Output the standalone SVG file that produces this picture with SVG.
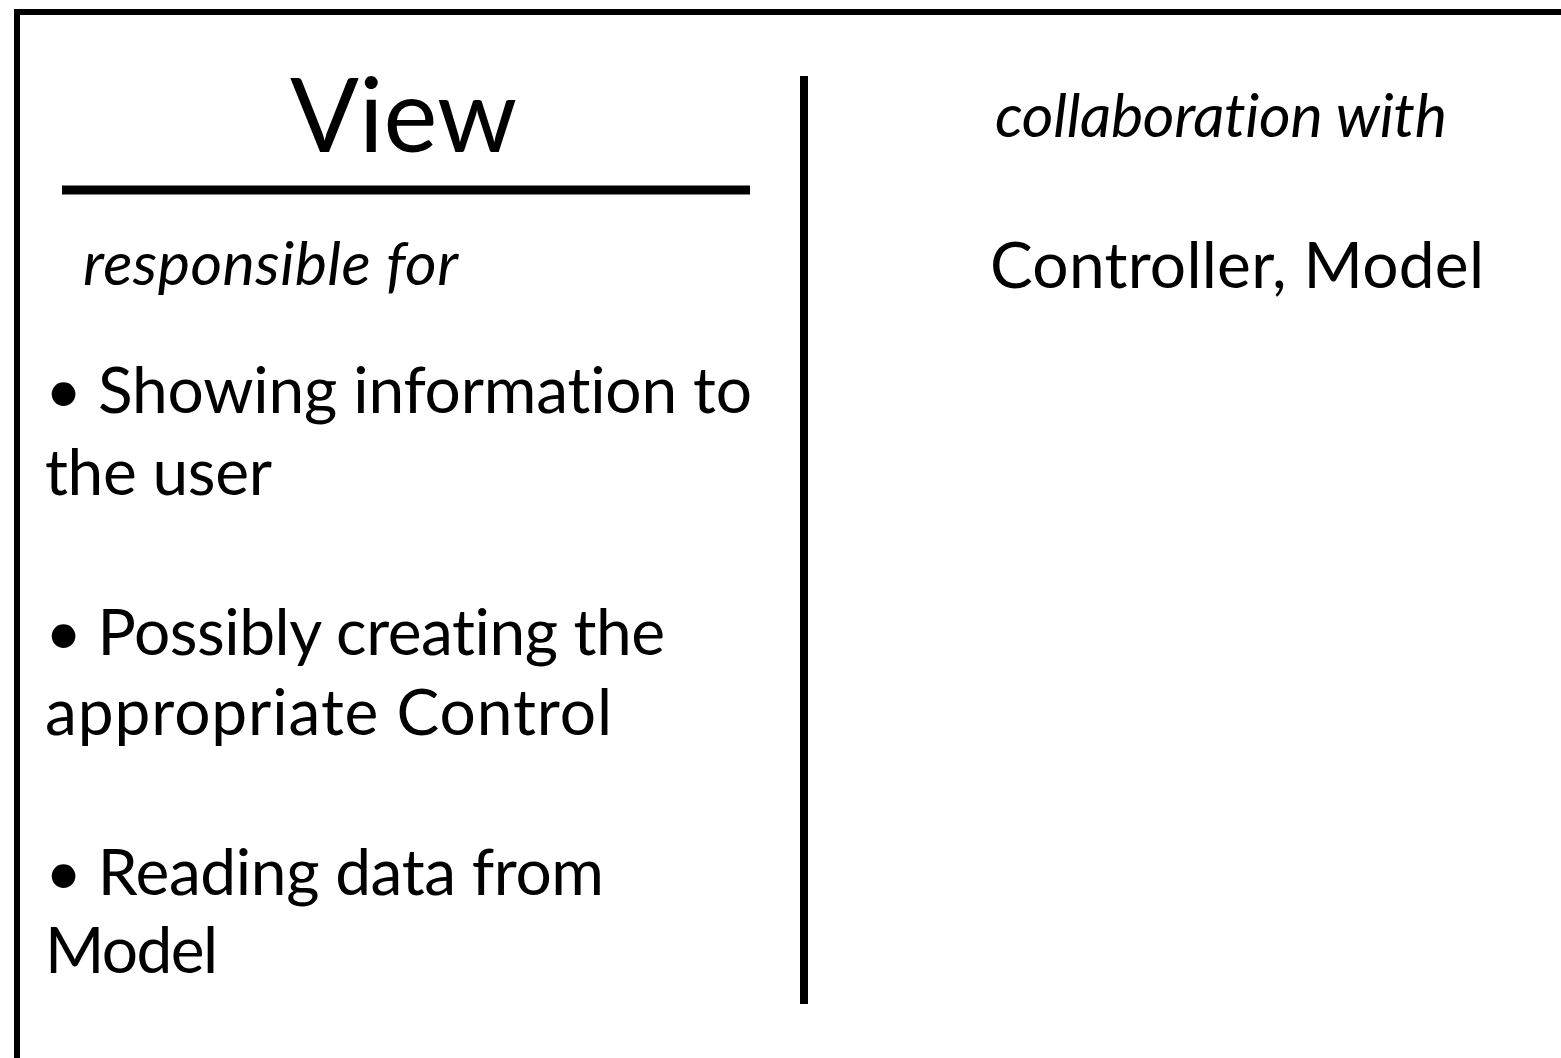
<svg xmlns="http://www.w3.org/2000/svg" width="1561" height="1058" viewBox="0 0 1561 1058">
<style>
.t{font-family:Lato,"Open Sans","Liberation Sans",sans-serif;fill:#000;font-variant-ligatures:none}
.b{font-size:64px}
.i{font-style:italic;font-size:61px}
</style>
<rect x="0" y="0" width="1561" height="1058" fill="#fff"/>
<g id="card">
<rect x="17" y="12" width="1600" height="1100" fill="none" stroke="#000" stroke-width="6"/>
<line x1="62" y1="190" x2="750" y2="190" stroke="#000" stroke-width="9"/>
<line x1="804" y1="76" x2="804" y2="1004" stroke="#000" stroke-width="8"/>
</g>
<g id="title"><text class="t" x="290" y="152" font-size="102" textLength="227">View</text></g>
<g id="responsibilities">
<text class="t i" x="83" y="285" textLength="375">responsible for</text>
<text class="t b" x="45" y="413" textLength="707">• Showing information to</text>
<text class="t b" x="45" y="495" textLength="227">the user</text>
<text class="t b" x="45" y="655" textLength="620">• Possibly creating the</text>
<text class="t b" x="45" y="735" textLength="567">appropriate Control</text>
<text class="t b" x="45" y="895" textLength="559">• Reading data from</text>
<text class="t b" x="45" y="973" textLength="173">Model</text>
</g>
<g id="collaborators">
<text class="t i" x="995" y="137" textLength="452">collaboration with</text>
<text class="t b" x="990" y="288" textLength="494">Controller, Model</text>
</g>
</svg>
